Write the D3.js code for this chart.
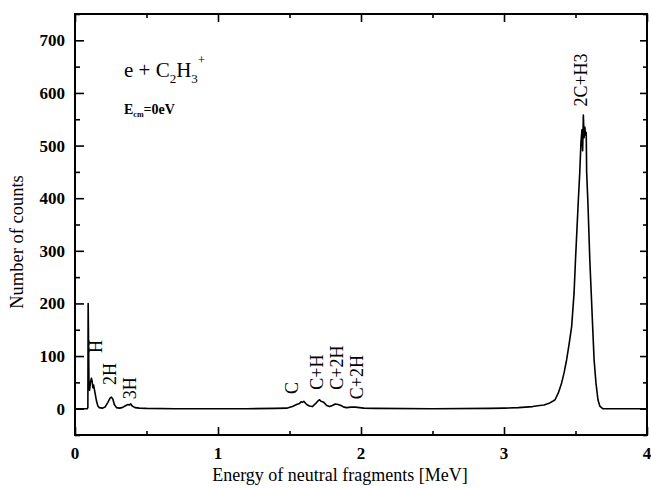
<!DOCTYPE html>
<html>
<head>
<meta charset="utf-8">
<script src="https://cdn.jsdelivr.net/npm/d3@7"></script>
<style>
  body { margin: 0; background: #fff; }
  text { font-family: "Liberation Serif", "Times New Roman", serif; fill: #000; }
</style>
</head>
<body>
<div id="chart"></div>
<script>
// Spectrum (energy in MeV, number of counts)
const energy = [
  0.00, 0.05, 0.085, 0.09, 0.092, 0.095, 0.098, 0.102, 0.108, 0.115, 0.12, 0.125, 0.13, 0.14, 0.15, 0.16, 0.17, 0.19,
  0.21, 0.23, 0.245, 0.255, 0.265, 0.275, 0.29, 0.31, 0.33, 0.35, 0.37, 0.38, 0.39, 0.40, 0.42, 0.45, 0.5, 0.7,
  1.0, 1.2, 1.4, 1.48, 1.52, 1.55, 1.57, 1.58, 1.59, 1.60, 1.62, 1.64, 1.66, 1.68, 1.70, 1.71, 1.72, 1.74, 1.76,
  1.78, 1.80, 1.82, 1.84, 1.86, 1.88, 1.90, 1.93, 1.96, 1.99, 2.02, 2.1, 2.5, 2.9, 3.0, 3.1, 3.15, 3.2, 3.25, 3.28,
  3.30, 3.32, 3.34, 3.357, 3.38, 3.403, 3.42, 3.438, 3.455, 3.473, 3.49, 3.50, 3.51, 3.52, 3.53, 3.538, 3.545,
  3.55, 3.555, 3.56, 3.565, 3.57, 3.575, 3.578, 3.587, 3.60, 3.61, 3.62, 3.63, 3.643, 3.657, 3.67, 3.69, 3.8, 4.0
];
const counts = [
  0, 0, 0, 2, 200, 120, 40, 35, 50, 58, 52, 40, 45, 30, 15, 5, 2, 1,
  3, 12, 20, 22, 18, 8, 2, 1, 2, 5, 8, 7, 9, 5, 2, 1, 0.5, 0,
  0, 0, 0.5, 1, 4, 8, 10, 13, 12, 14, 8, 5, 4, 9, 15, 17, 14, 12, 6,
  4, 6, 9, 8, 6, 3, 2, 3, 3, 2, 1, 0.5, 0, 0.5, 1, 2, 3, 4, 6, 7,
  9, 11, 14, 17, 30, 49, 68, 93, 122, 156, 220, 283, 340, 397, 450, 505, 530,
  490, 558, 515, 535, 520, 525, 450, 390, 283, 220, 156, 93, 49, 17, 5, 0, 0, 0
];

// Peak labels: text, energy and count where the rotated label starts
const peakNames = ["H", "2H", "3H", "C", "C+H", "C+2H", "C+2H", "2C+H3"];
const peakE = [0.189, 0.287, 0.430, 1.559, 1.731, 1.871, 2.014, 3.580];
const peakC = [106, 45, 18, 28, 36, 36, 18, 574];

const xMajor = [0, 1, 2, 3, 4];
const xMinor = [0.5, 1.5, 2.5, 3.5];
const yMajor = [0, 100, 200, 300, 400, 500, 600, 700];
const yMinor = [-50, 50, 150, 250, 350, 450, 550, 650, 750];

const W = 651, H = 488;
const frame = { left: 75, right: 647, top: 14, bottom: 435 };

const svg = d3.select("#chart").append("svg")
    .attr("width", W)
    .attr("height", H);

const x = d3.scaleLinear().domain([0, 4]).range([frame.left, frame.right]);
const y = d3.scaleLinear().domain([-50, 750]).range([frame.bottom, frame.top]);

// ticks on all four sides, pointing inwards
function ticks(axisFn, scale, values, size, pos) {
    const g = svg.append("g")
        .attr("transform", pos)
        .call(axisFn(scale).tickValues(values).tickSize(-size).tickFormat(""));
    g.select(".domain").remove();
    g.selectAll("line").attr("stroke", "#000").attr("stroke-width", 1.6);
    return g;
}
ticks(d3.axisBottom, x, xMajor, 8, `translate(0,${frame.bottom})`);
ticks(d3.axisBottom, x, xMinor, 4, `translate(0,${frame.bottom})`);
ticks(d3.axisTop, x, xMajor, 8, `translate(0,${frame.top})`);
ticks(d3.axisTop, x, xMinor, 4, `translate(0,${frame.top})`);
ticks(d3.axisLeft, y, yMajor, 9, `translate(${frame.left},0)`);
ticks(d3.axisLeft, y, yMinor, 5, `translate(${frame.left},0)`);
ticks(d3.axisRight, y, yMajor, 7, `translate(${frame.right},0)`);
ticks(d3.axisRight, y, yMinor, 4, `translate(${frame.right},0)`);

// tick labels
svg.append("g").selectAll("text")
    .data(xMajor)
    .join("text")
    .attr("x", d => x(d))
    .attr("y", 459)
    .attr("text-anchor", "middle")
    .style("font-size", "17px")
    .style("font-weight", 700)
    .text(d => d);

svg.append("g").selectAll("text")
    .data(yMajor)
    .join("text")
    .attr("x", 65)
    .attr("y", d => y(d))
    .attr("dy", "0.35em")
    .attr("text-anchor", "end")
    .style("font-size", "17px")
    .style("font-weight", 700)
    .text(d => d);

// frame
svg.append("rect")
    .attr("x", frame.left)
    .attr("y", frame.top)
    .attr("width", frame.right - frame.left)
    .attr("height", frame.bottom - frame.top)
    .attr("fill", "none")
    .attr("stroke", "#000")
    .attr("stroke-width", 2);

// spectrum
const pts = energy.map((e, i) => [e, counts[i]]);
svg.append("path")
    .datum(pts)
    .attr("fill", "none")
    .attr("stroke", "#000")
    .attr("stroke-width", 1.6)
    .attr("stroke-linejoin", "round")
    .attr("d", d3.line().x(d => x(d[0])).y(d => y(d[1])));

// peak labels
svg.append("g").selectAll("text")
    .data(peakNames)
    .join("text")
    .attr("transform", (d, i) => `translate(${x(peakE[i])},${y(peakC[i])}) rotate(-90)`)
    .style("font-size", "18px")
    .text(d => d);

// axis titles
svg.append("text")
    .attr("x", 340)
    .attr("y", 481)
    .attr("text-anchor", "middle")
    .style("font-size", "18px")
    .text("Energy of neutral fragments [MeV]");

svg.append("text")
    .attr("transform", "translate(23,242) rotate(-90)")
    .attr("text-anchor", "middle")
    .style("font-size", "18.5px")
    .text("Number of counts");

// reaction annotation
const react = svg.append("text")
    .attr("x", 124)
    .attr("y", 77)
    .style("font-size", "21px");
react.append("tspan").text("e + C");
react.append("tspan").attr("dy", 6).style("font-size", "13px").text("2");
react.append("tspan").attr("dy", -6).text("H");
react.append("tspan").attr("dy", 6).style("font-size", "13px").text("3");
react.append("tspan").attr("dy", -19).style("font-size", "13px").text("+");

const ecm = svg.append("text")
    .attr("x", 124)
    .attr("y", 114)
    .style("font-size", "14px")
    .style("font-weight", 700);
ecm.append("tspan").text("E");
ecm.append("tspan").attr("dy", 3).style("font-size", "8px").text("cm");
ecm.append("tspan").attr("dy", -3).text("=0eV");
</script>
</body>
</html>
